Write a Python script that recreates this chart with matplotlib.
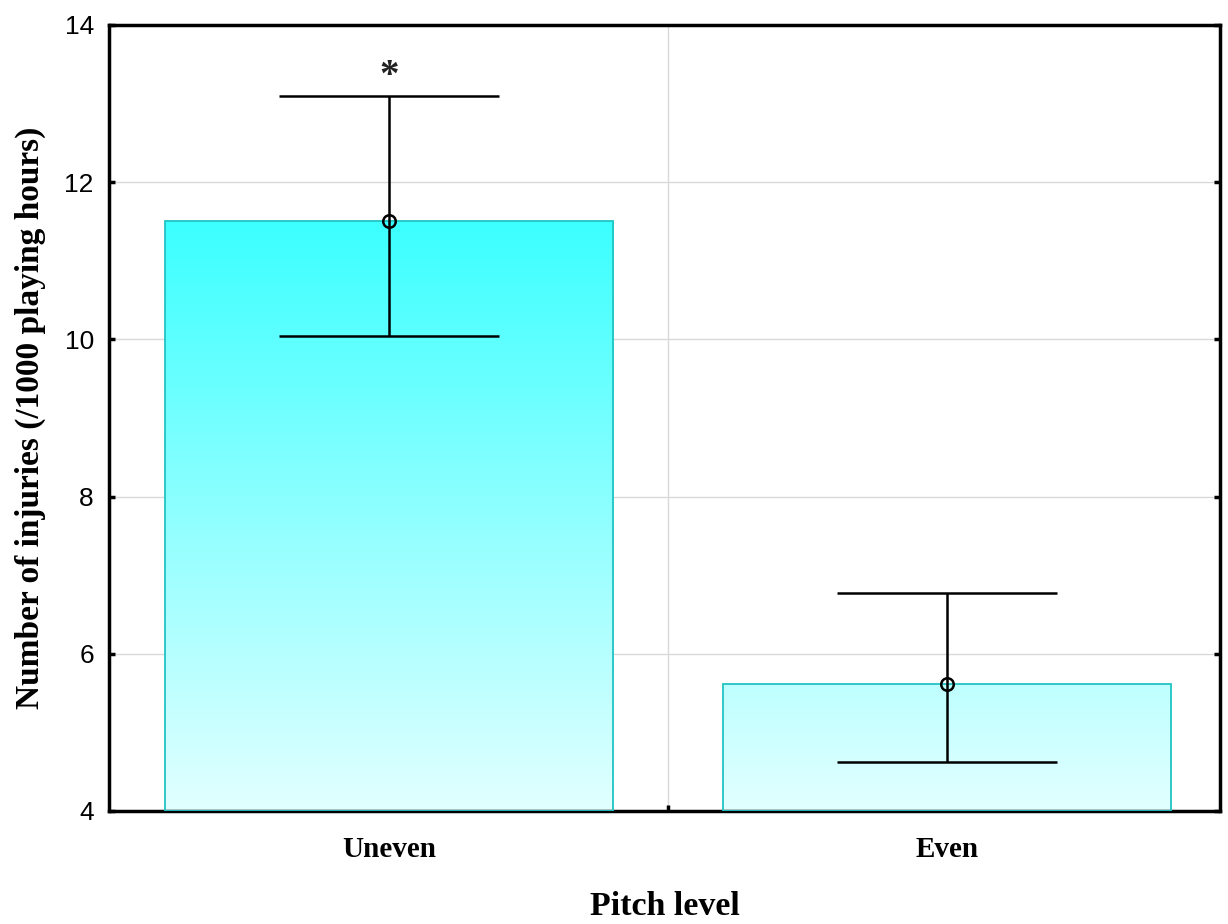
import numpy as np
import matplotlib
matplotlib.use("Agg")
import matplotlib.pyplot as plt
from matplotlib.colors import LinearSegmentedColormap

categories = ["Uneven", "Even"]
means = [11.5, 5.62]
upper = [13.1, 6.77]
lower = [10.04, 4.62]
yticks = [4, 6, 8, 10, 12, 14]

fig = plt.figure(figsize=(12.28, 9.24), dpi=100)
ax = fig.add_axes([0.0888, 0.1223, 0.9047, 0.8507])

x = np.arange(len(categories))
bars = ax.bar(x, np.array(means) - 4, bottom=4, width=0.803,
              facecolor="none", edgecolor="#22c4c4", linewidth=1.3, zorder=3)

cmap = LinearSegmentedColormap.from_list("cy", ["#e2ffff", "#3cffff"])
grad = np.linspace(0, 1, 256).reshape(-1, 1)
for b in bars:
    im = ax.imshow(grad, cmap=cmap, aspect="auto", origin="lower",
                   extent=(-0.5, 1.5, 4, 11.5), vmin=0, vmax=1, zorder=2)
    im.set_clip_path(b)

yerr = [np.array(means) - np.array(lower), np.array(upper) - np.array(means)]
ax.errorbar(x, means, yerr=yerr, fmt="o", mfc="none", mec="black", mew=1.8,
            ms=9, ecolor="black", elinewidth=1.8, capsize=79, capthick=1.8,
            color="black", zorder=5)

ax.text(0, 13.35, "*", ha="center", va="center", fontsize=28, fontweight="bold",
        family="Liberation Serif", color="#222222")

ax.set_xlim(-0.502, 1.489)
ax.set_ylim(4, 14)
ax.set_yticks(yticks)
ax.set_yticklabels([str(t) for t in yticks], family="Liberation Sans", fontsize=19)
ax.set_xticks(x)
ax.set_xticklabels(categories, family="Liberation Serif", fontweight="bold", fontsize=21)
ax.set_xticks([0.5], minor=True)
ax.tick_params(axis="x", which="major", length=0, pad=18)
ax.tick_params(axis="x", which="minor", direction="in", length=4, width=2.5, top=False)
ax.tick_params(axis="y", direction="in", length=4, width=2.5, right=True, left=True, pad=11)

ax.grid(True, axis="y", which="major", color="#d9d9d9", linewidth=1, zorder=0)
ax.grid(True, axis="x", which="minor", color="#d9d9d9", linewidth=1, zorder=0)
ax.set_axisbelow(True)

for s in ax.spines.values():
    s.set_linewidth(2.5)
    s.set_color("black")

ax.set_ylabel("Number of injuries (/1000 playing hours)", family="Liberation Serif",
              fontweight="bold", fontsize=24, labelpad=13)
ax.set_xlabel("Pitch level", family="Liberation Serif", fontweight="bold",
              fontsize=24.5, labelpad=20)

fig.savefig("out.png", dpi=100)
